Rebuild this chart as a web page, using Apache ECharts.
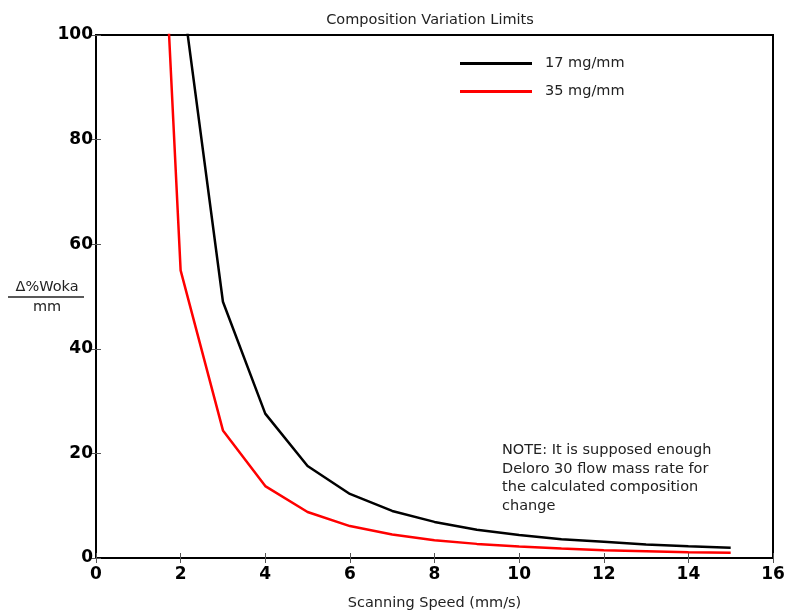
<!DOCTYPE html>
<html>
<head>
<meta charset="utf-8">
<script src="https://cdn.jsdelivr.net/npm/echarts@6/dist/echarts.min.js"></script>
<style>html,body{margin:0;padding:0;background:#fff}#c{width:790px;height:610px}</style>
</head>
<body>
<div id="c"></div>
<script>
const speeds = [1,2,3,4,5,6,7,8,9,10,11,12,13,14,15];
const series17 = [441,110.3,49,27.6,17.6,12.25,9,6.9,5.4,4.4,3.6,3.1,2.6,2.25,1.96];
const series35 = [220,55,24.4,13.75,8.8,6.1,4.5,3.4,2.7,2.2,1.8,1.5,1.3,1.1,0.98];
const seriesNames = ['17 mg/mm','35 mg/mm'];
const titleText = 'Composition Variation Limits';
const xTitle = 'Scanning Speed (mm/s)';
const noteLines = ['NOTE: It is supposed enough','Deloro 30 flow mass rate for','the calculated composition','change'];

const F = 'DejaVu Sans';
const chart = echarts.init(document.getElementById('c'), null, {renderer:'canvas'});
const pair = (ys) => speeds.map((x,i)=>[x, ys[i]]);
const tickStyle = {show:true, inside:true, length:5, lineStyle:{color:'#555', width:1}};
chart.setOption({
  animation:false,
  backgroundColor:'#fff',
  title:{text:titleText, left:425, top:8, textAlign:'center',
    textStyle:{fontFamily:F, fontSize:14.5, fontWeight:'normal', color:'#222'}},
  grid:{left:96, right:17, top:35, bottom:52, show:true, borderColor:'#000', borderWidth:2, backgroundColor:'transparent',
    containLabel:false, outerBoundsMode:'none'},
  xAxis:[
    {type:'value', min:0, max:16, interval:2, position:'bottom',
     axisLine:{show:false}, axisTick:tickStyle, splitLine:{show:false},
     axisLabel:{fontFamily:F, fontSize:17, fontWeight:'bold', color:'#000', margin:8},
     name:xTitle, nameLocation:'middle', nameGap:38,
     nameTextStyle:{fontFamily:F, fontSize:14.5, color:'#222'}},
    {type:'value', min:0, max:16, interval:2, position:'top',
     axisLine:{show:false}, axisTick:tickStyle, splitLine:{show:false}, axisLabel:{show:false}}
  ],
  yAxis:[
    {type:'value', min:0, max:100, interval:20, position:'left',
     axisLine:{show:false}, axisTick:tickStyle, splitLine:{show:false},
     axisLabel:{fontFamily:F, fontSize:17, fontWeight:'bold', color:'#000', margin:3}},
    {type:'value', min:0, max:100, interval:20, position:'right',
     axisLine:{show:false}, axisTick:tickStyle, splitLine:{show:false}, axisLabel:{show:false}}
  ],
  legend:{orient:'vertical', left:460, top:56, padding:0, itemWidth:72, itemHeight:3, itemGap:13, icon:'rect',
    textStyle:{fontFamily:F, fontSize:14.5, color:'#222', padding:[0,0,0,8]},
    data:seriesNames},
  series:[
    {name:seriesNames[0], type:'line', data:pair(series17), showSymbol:false, clip:true,
     lineStyle:{color:'#000', width:2.5}, itemStyle:{color:'#000'}},
    {name:seriesNames[1], type:'line', data:pair(series35), showSymbol:false, clip:true,
     lineStyle:{color:'#ff0000', width:2.5}, itemStyle:{color:'#ff0000'}}
  ],
  graphic:[
    {type:'text', left:502, top:441, style:{text:noteLines.join('\n'), fontFamily:F, fontSize:14.5, lineHeight:18.5, fill:'#222'}},
    {type:'text', x:47, y:287, style:{text:'Δ%Woka', fontFamily:F, fontSize:14.5, fill:'#222', align:'center', verticalAlign:'middle'}},
    {type:'line', shape:{x1:8, y1:297, x2:84, y2:297}, style:{stroke:'#222', lineWidth:1.5}},
    {type:'text', x:47, y:307, style:{text:'mm', fontFamily:F, fontSize:14.5, fill:'#222', align:'center', verticalAlign:'middle'}}
  ]
});
</script>
</body>
</html>
